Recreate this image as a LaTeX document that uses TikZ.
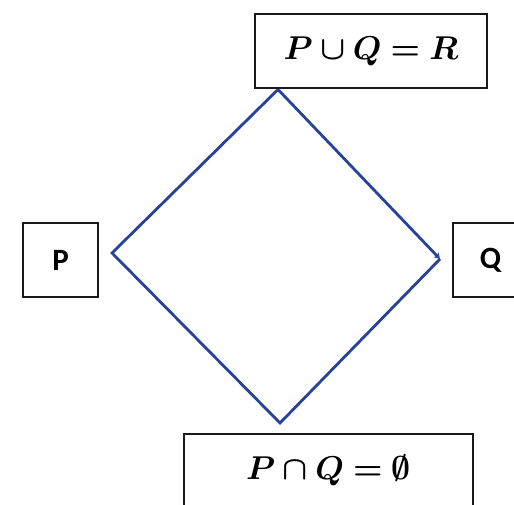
\documentclass[tikz,border=0pt]{standalone}
\usepackage{amsmath}
\usepackage{bm}
\usepackage{fontspec}
\newfontfamily\calib{Carlito}
\usetikzlibrary{arrows.meta}
\definecolor{edgeblue}{RGB}{40,65,155}
\definecolor{boxline}{RGB}{25,25,25}
\tikzset{
  box/.style={draw=boxline, line width=2.2pt, inner sep=0pt, anchor=center},
  mathtxt/.style={scale=3.3, inner sep=0pt},
  lettxt/.style={font=\calib\bfseries\fontsize{31}{34}\selectfont, inner sep=0pt},
  edge/.style={draw=edgeblue, line width=2.8pt, line join=miter}
}
\begin{document}
\begin{tikzpicture}[x=1pt,y=-1pt]
\useasboundingbox (0,0) rectangle (514,505);
\node[box, minimum width=232pt, minimum height=74pt] (top) at (371,51) {};
\node[mathtxt] (toptxt) at (top.center) {$\bm{P \cup Q = R}$};
\node[box, lettxt, minimum width=75pt, minimum height=74pt] (p) at (60.5,260) {P};
\node[box, lettxt, minimum width=75pt, minimum height=74pt] (q) at (490.5,260) {Q};
\node[box, minimum width=289pt, minimum height=72pt] (bot) at (328.5,470) {};
\node[mathtxt] (bottxt) at (bot.center) {$\bm{P \cap Q = \emptyset}$};
\coordinate (vt) at (278,89.5);
\coordinate (vl) at (112,253);
\coordinate (vr) at (440,259);
\coordinate (vb) at (280,423);
\draw[edge] (vr) -- (vb) -- (vl) -- (vt);
\draw[edge, -{Stealth[length=6pt,width=7pt]}] (vt) -- (vr);
\end{tikzpicture}
\end{document}
